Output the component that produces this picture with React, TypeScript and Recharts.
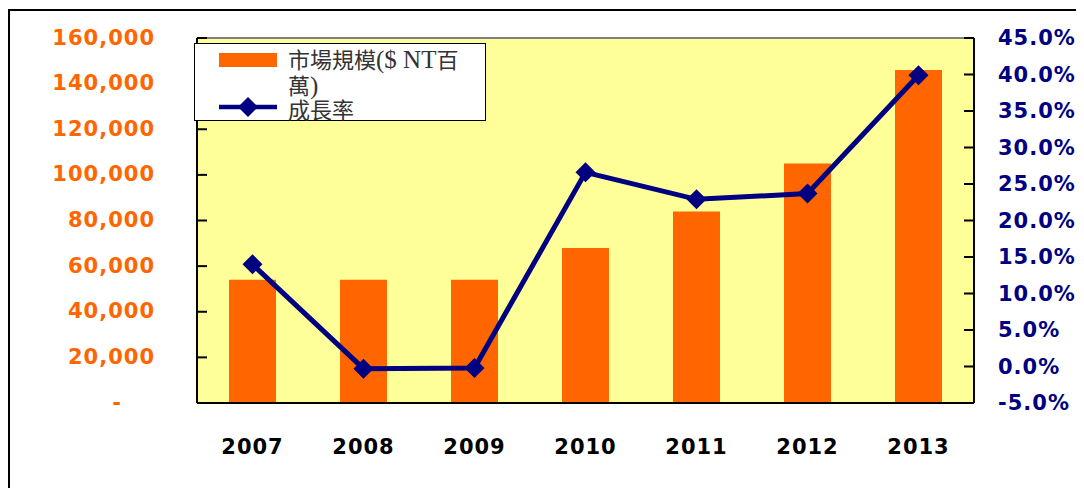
import React from "react";
import {
  Bar,
  CartesianGrid,
  ComposedChart,
  Legend,
  Line,
  ReferenceLine,
  XAxis,
  YAxis,
} from "recharts";

const YEARS = ["2007", "2008", "2009", "2010", "2011", "2012", "2013"];
const MARKET_SIZE = [54000, 54000, 54000, 68000, 84000, 105000, 146000];
const GROWTH = [14.0, -0.3, -0.2, 26.6, 22.9, 23.7, 39.9];

const LEFT_TICKS = [0, 20000, 40000, 60000, 80000, 100000, 120000, 140000, 160000];
const RIGHT_TICKS = [-5, 0, 5, 10, 15, 20, 25, 30, 35, 40, 45];

const BAR_NAME = "市場規模($ NT百萬)";
const LINE_NAME = "成長率";

const ORANGE = "#FF6600";
const NAVY = "#000080";
const AXIS_FONT = "'DejaVu Sans', Verdana, sans-serif";
const LEGEND_FONT = "'Liberation Serif', 'Noto Sans CJK TC', serif";

const data = YEARS.map((year, i) => ({
  year,
  market: MARKET_SIZE[i],
  growth: GROWTH[i],
}));

const fmtThousands = (v: number) =>
  String(v).replace(/\B(?=(\d{3})+(?!\d))/g, ",");

function LeftTick(props: any) {
  const { x, y, payload } = props;
  const v = payload.value as number;
  return (
    <g>
      <line x1={x} x2={x + 10} y1={y} y2={y} stroke="#000" strokeWidth={2} />
      <text
        x={v === 0 ? x - 75 : x - 42}
        y={y + 6.5}
        textAnchor="end"
        fill={ORANGE}
        fontFamily={AXIS_FONT}
        fontWeight="bold"
        fontSize={21}
        letterSpacing={1}
      >
        {v === 0 ? "-" : fmtThousands(v)}
      </text>
    </g>
  );
}

function RightTick(props: any) {
  const { x, y, payload } = props;
  const v = payload.value as number;
  return (
    <g>
      <line x1={x - 10} x2={x} y1={y} y2={y} stroke="#000" strokeWidth={2} />
      <text
        x={x + 24}
        y={y + 7}
        textAnchor="start"
        fill={NAVY}
        fontFamily={AXIS_FONT}
        fontWeight="bold"
        fontSize={21}
        letterSpacing={1}
      >
        {v.toFixed(1) + "%"}
      </text>
    </g>
  );
}

function YearTick(props: any) {
  const { x, y, payload } = props;
  return (
    <text
      x={x}
      y={y + 51}
      textAnchor="middle"
      fill="#000"
      fontFamily={AXIS_FONT}
      fontWeight="bold"
      fontSize={21}
      letterSpacing={1}
    >
      {payload.value}
    </text>
  );
}

function Diamond(props: any) {
  const { cx, cy, index } = props;
  if (cx == null || cy == null) return null;
  const r = 10;
  return (
    <polygon
      key={index}
      points={`${cx},${cy - r} ${cx + r},${cy} ${cx},${cy + r} ${cx - r},${cy}`}
      fill={NAVY}
    />
  );
}

function LegendBox() {
  const text: React.CSSProperties = {
    position: "absolute",
    left: 93,
    height: 20,
    fontFamily: LEGEND_FONT,
    fontSize: 22,
    lineHeight: "20px",
    color: "#333",
    whiteSpace: "nowrap",
  };
  const latin: React.CSSProperties = { fontSize: 25, lineHeight: "20px" };
  return (
    <div
      style={{
        position: "relative",
        width: 292,
        height: 78,
        boxSizing: "border-box",
        border: "1.5px solid #000",
        background: "#fff",
      }}
    >
      <div
        style={{
          position: "absolute",
          left: 24,
          top: 9,
          width: 58,
          height: 14,
          background: ORANGE,
        }}
      />
      <div style={{ ...text, top: 6 }}>
        {BAR_NAME.slice(0, 4)}
        <span style={latin}>{BAR_NAME.slice(4, 9)}</span>
        {BAR_NAME.slice(9, 10)}
      </div>
      <div style={{ ...text, top: 32 }}>
        {BAR_NAME.slice(10, 11)}
        <span style={latin}>{BAR_NAME.slice(11)}</span>
      </div>
      <svg
        width={60}
        height={22}
        style={{ position: "absolute", left: 23, top: 52 }}
      >
        <line x1={1} x2={59} y1={11} y2={11} stroke={NAVY} strokeWidth={4.5} />
        <polygon points="30,1 40,11 30,21 20,11" fill={NAVY} />
      </svg>
      <div style={{ ...text, top: 57 }}>{LINE_NAME}</div>
    </div>
  );
}

export default function App() {
  return (
    <div
      style={{
        position: "relative",
        top: 1,
        width: 1075,
        height: 490,
        boxSizing: "border-box",
        border: "2px solid #000",
        background: "#fff",
      }}
    >
      <style>{"html,body{overflow:hidden}"}</style>
      <ComposedChart
        width={1071}
        height={452}
        data={data}
        margin={{ top: 27, right: 0, left: 0, bottom: 0 }}
      >
        <CartesianGrid
          yAxisId="left"
          fill="#FFFF99"
          horizontal={false}
          vertical={false}
        />
        <XAxis
          dataKey="year"
          height={60}
          tickSize={0}
          tickMargin={0}
          tickLine={false}
          axisLine={{ stroke: "#000", strokeWidth: 2 }}
          tick={<YearTick />}
          interval={0}
        />
        <YAxis
          yAxisId="left"
          orientation="left"
          width={187}
          domain={[0, 160000]}
          ticks={LEFT_TICKS}
          interval={0}
          tickSize={0}
          tickMargin={0}
          tickLine={false}
          axisLine={{ stroke: "#000", strokeWidth: 2 }}
          tick={<LeftTick />}
        />
        <YAxis
          yAxisId="right"
          orientation="right"
          width={107}
          domain={[-5, 45]}
          ticks={RIGHT_TICKS}
          interval={0}
          tickSize={0}
          tickMargin={0}
          tickLine={false}
          axisLine={{ stroke: "#000", strokeWidth: 2 }}
          tick={<RightTick />}
        />
        <ReferenceLine
          yAxisId="left"
          y={160000}
          stroke="#808080"
          strokeWidth={2}
        />
        <Bar
          yAxisId="left"
          dataKey="market"
          name={BAR_NAME}
          fill={ORANGE}
          barSize={47}
          isAnimationActive={false}
        />
        <Line
          yAxisId="right"
          dataKey="growth"
          name={LINE_NAME}
          stroke={NAVY}
          strokeWidth={5}
          dot={<Diamond />}
          activeDot={false}
          isAnimationActive={false}
        />
        <Legend
          layout="horizontal"
          verticalAlign="middle"
          align="center"
          content={<LegendBox />}
          wrapperStyle={{ left: 184, top: 32, width: 292, height: 78 }}
        />
      </ComposedChart>
    </div>
  );
}
